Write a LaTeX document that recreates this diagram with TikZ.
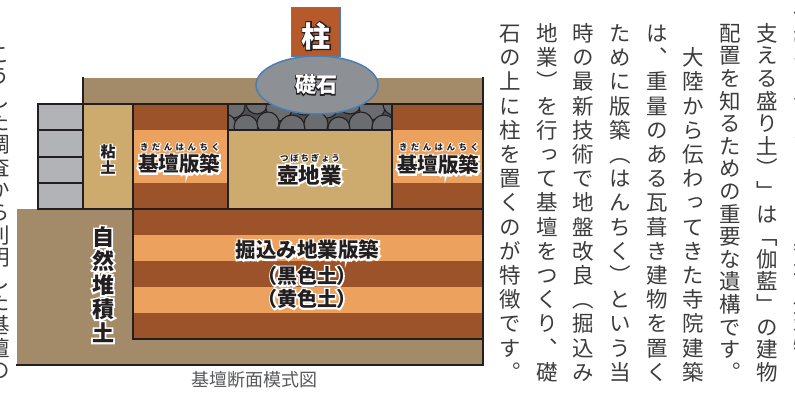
\documentclass[tikz,border=0pt]{standalone}
\usepackage{fontspec}
\usetikzlibrary{shapes.geometric}
\newfontfamily\jpfont{Noto Sans CJK JP}
\newfontfamily\jptate[RawFeature=+vert]{Noto Sans CJK JP}
\newfontfamily\jppalt[RawFeature=+palt]{Noto Sans CJK JP}

\definecolor{soil}{HTML}{A38A68}
\definecolor{darkstripe}{HTML}{9D5329}
\definecolor{lightstripe}{HTML}{EDA15E}
\definecolor{clay}{HTML}{CDAA6E}
\definecolor{stone}{HTML}{B2B3B7}
\definecolor{cobblebg}{HTML}{4E4F52}
\definecolor{cobble}{HTML}{6B6C6F}
\definecolor{rockgray}{HTML}{8D9095}
\definecolor{rockedge}{HTML}{4C7FB1}
\definecolor{pillarred}{HTML}{B65A2C}
\definecolor{ink}{HTML}{231F20}
\definecolor{bodytext}{HTML}{3C3C3C}
\definecolor{captiongray}{HTML}{58595B}

\makeatletter
% one square cell of vertical text
\newlength\tatepitch
\newcommand\tatecell[1]{\vbox to\tatepitch{\vss\hbox to\tatepitch{\hss\vrule height .88em depth .12em width 0pt\relax#1\hss}\vss}}
% characters stacked at a fixed pitch
\newcommand\tatestack[2]{\setlength\tatepitch{#1}\vbox{\offinterlineskip\@tfor\tatech:=#2\do{\tatecell{\tatech}}}}
% a justified column of vertical text: pitch, column height, text
\newcommand\tatecol[3]{\setlength\tatepitch{#1}\vbox to #2{\offinterlineskip\let\tatesep\relax\@tfor\tatech:=#3\do{\tatesep\tatecell{\tatech}\def\tatesep{\vskip 0pt plus 1fil}}}}
\makeatother

% outlined text: a stroked copy in the halo colour under the plain text
% (#1 halo colour, #2 stroke amount, #3 text)
\newcommand\halo[3]{\leavevmode\rlap{\color{#1}\addfontfeatures{FakeBold=#2}#3}#3}

\begin{document}
\begin{tikzpicture}[x=1pt,y=-1pt,
  wall/.style={line width=2.6pt, draw=ink, line cap=rect},
  lbl/.style={inner sep=0pt, text=ink},
  body/.style={inner sep=0pt, anchor=north, text=bodytext, font={\jptate\fontsize{21.5}{22}\selectfont}}]
\useasboundingbox (0,0) rectangle (795,395);
\clip (0,0) rectangle (795,395);

% natural ground and top soil
\fill[soil] (17,209) rectangle (483,365);
\fill[soil] (83,78) rectangle (483,104);
% stone facing and clay
\fill[stone] (38,104) rectangle (83,209);
\fill[clay] (83,104) rectangle (133,209);
% rammed-earth platform blocks
\fill[darkstripe] (133,104) rectangle (228,209);
\fill[lightstripe] (133,130) rectangle (228,183);
\fill[darkstripe] (392,104) rectangle (483,209);
\fill[lightstripe] (392,130) rectangle (483,183);
% pit foundation
\fill[clay] (228,130) rectangle (392,209);
\begin{scope}
  \clip (228,104) rectangle (392,130);
  \fill[cobblebg] (228,104) rectangle (392,130);
  \foreach \cx/\cy/\r in {233/106/12,257/103/11,279/108/13,304/103/12,327/107/11,350/102/12,372/107/13,394/104/11,
                       225/125/11,246/127/12,268/123/11,292/128/13,316/124/12,339/128/11,361/124/12,384/127/12}
    \draw[fill=cobble, draw=ink, line width=1.1pt] (\cx,\cy) circle[radius=\r];
\end{scope}
% excavated foundation layers
\fill[darkstripe] (133,209) rectangle (483,339);
\fill[lightstripe] (133,235) rectangle (483,261);
\fill[lightstripe] (133,287) rectangle (483,313);

% outlines
\draw[wall] (83,78) -- (83,209);
\draw[wall] (38,104) rectangle (83,209);
\draw[wall] (38,130) -- (83,130) (38,157) -- (83,157) (38,183) -- (83,183);
\draw[wall] (38,104) -- (483,104);
\draw[wall] (38,209) -- (483,209);
\draw[wall] (133,104) -- (133,339) -- (483,339);
\draw[wall] (228,104) -- (228,209) (392,104) -- (392,209);
\draw[wall, line width=1.5pt] (228,130) -- (392,130);
\draw[wall] (483,78) -- (483,365);
\draw[wall, line width=2pt] (17,365) -- (483,365);

% pillar and foundation stone
\node[draw=rockedge, fill=pillarred, line width=1pt, minimum width=49pt, minimum height=49pt, inner sep=0pt] (pillar) at (315.5,32.5) {};
\node[ellipse, draw=rockedge, fill=rockgray, line width=1.5pt, minimum width=122pt, minimum height=58pt, inner sep=0pt] (rock) at (317,85) {};
\node[lbl] (pillartext) at (316,36) {\jpfont\bfseries\fontsize{29}{29}\selectfont\color{white}\halo{ink}{8}{柱}};
\node[lbl] (rocktext) at (316,85) {\jpfont\bfseries\fontsize{21}{21}\selectfont\color{white}\halo{ink}{8}{礎石}};

% layer labels
\node[lbl] (claytext) at (108,160) {\jpfont\bfseries\fontsize{15}{15}\selectfont\halo{white}{16}{\tatestack{16pt}{粘土}}};
\node[lbl] (soiltext) at (103,285) {\jpfont\bfseries\fontsize{22}{22}\selectfont\halo{white}{16}{\tatestack{24pt}{自然堆積土}}};
\node[lbl] (lefttext) at (179,164) {\jpfont\bfseries\fontsize{20.5}{20.5}\selectfont\halo{white}{16}{基壇版築}};
\node[lbl] (leftruby) at (180,147) {\jpfont\bfseries\fontsize{8.5}{8.5}\selectfont\halo{white}{22}{\hbox to 80pt{き\hfil だ\hfil ん\hfil は\hfil ん\hfil ち\hfil く}}};
\node[lbl] (righttext) at (438,165) {\jpfont\bfseries\fontsize{20.5}{20.5}\selectfont\halo{white}{16}{基壇版築}};
\node[lbl] (rightruby) at (439,147) {\jpfont\bfseries\fontsize{8.5}{8.5}\selectfont\halo{white}{22}{\hbox to 80pt{き\hfil だ\hfil ん\hfil は\hfil ん\hfil ち\hfil く}}};
\node[lbl] (pittext) at (309.5,175) {\jpfont\bfseries\fontsize{21.5}{21.5}\selectfont\halo{white}{16}{壺地業}};
\node[lbl] (pitruby) at (310,158) {\jpfont\bfseries\fontsize{8.5}{8.5}\selectfont\halo{white}{22}{\hbox to 60pt{つ\hfil ぼ\hfil ち\hfil ぎ\hfil ょ\hfil う}}};
\node[lbl] (digtext) at (307.5,250) {\jpfont\bfseries\fontsize{20.5}{20.5}\selectfont\halo{white}{16}{掘込み地業版築}};
\node[lbl] (blacktext) at (307,276) {\jppalt\bfseries\fontsize{20}{20}\selectfont\halo{white}{16}{（黒色土）}};
\node[lbl] (yellowtext) at (307,299) {\jppalt\bfseries\fontsize{20}{20}\selectfont\halo{white}{16}{（黄色土）}};
\node[lbl, text=captiongray] (caption) at (254,380) {\jpfont\fontsize{18}{18}\selectfont 基壇断面模式図};

% vertical body text, columns read right to left
\node[body] (col0) at (804,1.7) {\tatecol{22.6pt}{381.6pt}{一帯で見つかった「基壇（建物を}};
\node[body] (col1) at (767,21.7) {\tatecol{22.6pt}{361.6pt}{支える盛り土）」は「伽藍」の建物}};
\node[body] (col2) at (730,21.7) {\tatecol{22.6pt}{361.6pt}{配置を知るための重要な遺構です。}};
\node[body] (col3) at (693,21.7) {\tatecol{22.6pt}{361.6pt}{　大陸から伝わってきた寺院建築}};
\node[body] (col4) at (657,21.7) {\tatecol{22.6pt}{361.6pt}{は、重量のある瓦葺き建物を置く}};
\node[body] (col5) at (620,21.7) {\tatecol{22.6pt}{361.6pt}{ために版築（はんちく）という当}};
\node[body] (col6) at (583,21.7) {\tatecol{22.6pt}{361.6pt}{時の最新技術で地盤改良（掘込み}};
\node[body] (col7) at (547,21.7) {\tatecol{22.6pt}{361.6pt}{地業）を行って基壇をつくり、礎}};
\node[body] (col8) at (510,21.7) {\tatecol{22.6pt}{361.6pt}{石の上に柱を置くのが特徴です。}};
\node[body] (col9) at (-1,42.7) {\tatecol{22.6pt}{306.6pt}{こうした調査から判明した基壇の}};
\end{tikzpicture}
\end{document}
